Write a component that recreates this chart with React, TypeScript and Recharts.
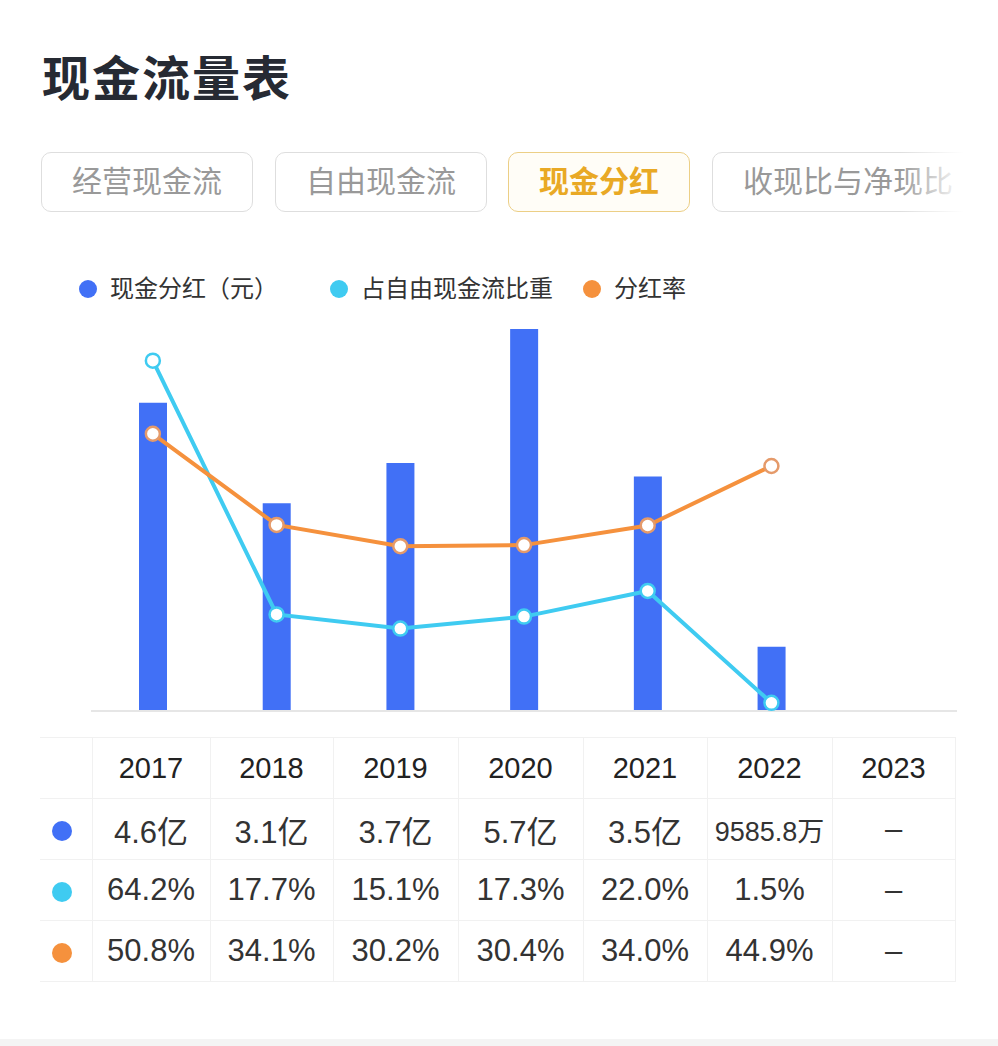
import React from 'react';
import { ComposedChart, Bar, Line, XAxis, YAxis } from 'recharts';

// 年份 / 现金分红（亿元）/ 占自由现金流比重（%）/ 分红率（%）
const years = ['2017', '2018', '2019', '2020', '2021', '2022', '2023'];
const dividend = [4.6, 3.1, 3.7, 5.7, 3.5, 0.95858, null];
const fcfShare = [64.2, 17.7, 15.1, 17.3, 22.0, 1.5, null];
const payoutRatio = [50.8, 34.1, 30.2, 30.4, 34.0, 44.9, null];
const dividendLabels = ['4.6亿', '3.1亿', '3.7亿', '5.7亿', '3.5亿', '9585.8万', '–'];

const tabs = ['经营现金流', '自由现金流', '现金分红', '收现比与净现比'];
const seriesNames = ['现金分红（元）', '占自由现金流比重', '分红率'];

const BLUE = '#4170f6';
const CYAN = '#3fcbf1';
const ORANGE = '#f5913d';
const FONT = "'Liberation Sans', 'Noto Sans CJK SC', sans-serif";

const data = years.map((year, i) => ({
  year,
  dividend: dividend[i],
  share: fcfShare[i],
  payout: payoutRatio[i]
}));

const pct = (v: number | null) => (v == null ? '–' : `${v.toFixed(1)}%`);

const tabBoxes = [
  { left: 41, width: 212 },
  { left: 275, width: 212 },
  { left: 508, width: 182 },
  { left: 712, width: 300 }
];

const colWidths = [52, 118, 123, 125, 125, 124, 125, 123];

export default function App() {
  const cell: React.CSSProperties = {
    border: '1px solid #f1f1f1',
    textAlign: 'center',
    height: 60,
    padding: 0,
    color: '#333',
    fontSize: 31
  };

  const rows = [
    { color: BLUE, values: dividendLabels },
    { color: CYAN, values: fcfShare.map(pct) },
    { color: ORANGE, values: payoutRatio.map(pct) }
  ];

  return (
    <div
      style={{
        position: 'absolute',
        left: 0,
        top: 0,
        width: 998,
        height: 1046,
        background: '#fff',
        fontFamily: FONT,
        overflow: 'hidden'
      }}
    >
      <div
        style={{
          position: 'absolute',
          left: 42,
          top: 40,
          fontSize: 48,
          fontWeight: 700,
          color: '#262a33',
          letterSpacing: 2
        }}
      >
        现金流量表
      </div>

      {tabs.map((t, i) => {
        const active = i === 2;
        return (
          <div
            key={t}
            style={{
              position: 'absolute',
              left: tabBoxes[i].left,
              top: 152,
              width: tabBoxes[i].width,
              height: 60,
              boxSizing: 'border-box',
              border: `1.5px solid ${active ? '#eccf86' : '#dedede'}`,
              borderRadius: 10,
              background: active ? '#fffdf7' : '#fff',
              color: active ? '#e9a925' : '#999',
              fontWeight: active ? 700 : 400,
              fontSize: 30,
              lineHeight: '57px',
              paddingLeft: i === 3 ? 30 : 0,
              textAlign: i === 3 ? 'left' : 'center',
              whiteSpace: 'nowrap',
              overflow: 'hidden'
            }}
          >
            {t}
          </div>
        );
      })}
      <div
        style={{
          position: 'absolute',
          left: 900,
          top: 140,
          width: 98,
          height: 80,
          background: 'linear-gradient(to right, rgba(255,255,255,0), #fff 65%)'
        }}
      />

      {/* legend */}
      <div style={{ position: 'absolute', left: 79, top: 272, display: 'flex', alignItems: 'center' }}>
        {seriesNames.map((name, i) => (
          <div
            key={name}
            style={{ display: 'flex', alignItems: 'center', marginRight: i === 0 ? 52 : 30 }}
          >
            <span
              style={{
                width: 18,
                height: 18,
                borderRadius: 9,
                background: [BLUE, CYAN, ORANGE][i],
                marginRight: 13
              }}
            />
            <span style={{ fontSize: 24, color: '#333', lineHeight: '34px' }}>{name}</span>
          </div>
        ))}
      </div>

      <div style={{ position: 'absolute', left: 0, top: 0 }}>
        <ComposedChart
          width={998}
          height={720}
          data={data}
          margin={{ top: 329, right: 41, bottom: 0, left: 91 }}
          barSize={28}
        >
          <XAxis
            dataKey="year"
            tick={false}
            tickLine={false}
            height={9}
            axisLine={{ stroke: '#e6e6e6', strokeWidth: 2 }}
          />
          <YAxis yAxisId="amt" hide domain={[0, 'dataMax']} />
          <YAxis yAxisId="pct" hide domain={[0, 70]} />
          <Bar yAxisId="amt" dataKey="dividend" fill={BLUE} isAnimationActive={false} />
          <Line
            yAxisId="pct"
            dataKey="share"
            stroke={CYAN}
            strokeWidth={4}
            dot={{ r: 7, fill: '#fff', stroke: CYAN, strokeWidth: 2.5 }}
            activeDot={false}
            isAnimationActive={false}
          />
          <Line
            yAxisId="pct"
            dataKey="payout"
            stroke={ORANGE}
            strokeWidth={4}
            dot={{ r: 7, fill: '#fff', stroke: '#e59a6a', strokeWidth: 2.5 }}
            activeDot={false}
            isAnimationActive={false}
          />
        </ComposedChart>
      </div>

      <table
        style={{
          position: 'absolute',
          left: 40,
          top: 737,
          borderCollapse: 'collapse',
          tableLayout: 'fixed',
          width: 915
        }}
      >
        <colgroup>
          {colWidths.map((w, i) => (
            <col key={i} style={{ width: w }} />
          ))}
        </colgroup>
        <tbody>
          <tr>
            <td style={{ ...cell, borderLeft: 'none', fontSize: 29 }} />
            {years.map(y => (
              <td key={y} style={{ ...cell, color: '#222', fontSize: 29 }}>
                {y}
              </td>
            ))}
          </tr>
          {rows.map((r, ri) => (
            <tr key={ri}>
              <td style={{ ...cell, borderLeft: 'none', textAlign: 'left' }}>
                <span
                  style={{
                    display: 'inline-block',
                    width: 20,
                    height: 20,
                    borderRadius: 10,
                    background: r.color,
                    marginLeft: 12,
                    verticalAlign: 'middle'
                  }}
                />
              </td>
              {r.values.map((v, i) => (
                <td key={i} style={{ ...cell, fontSize: v.length > 6 ? 27 : 31 }}>
                  {v}
                </td>
              ))}
            </tr>
          ))}
        </tbody>
      </table>

      <div
        style={{ position: 'absolute', left: 0, top: 1039, width: 998, height: 7, background: '#f4f4f4' }}
      />
    </div>
  );
}
